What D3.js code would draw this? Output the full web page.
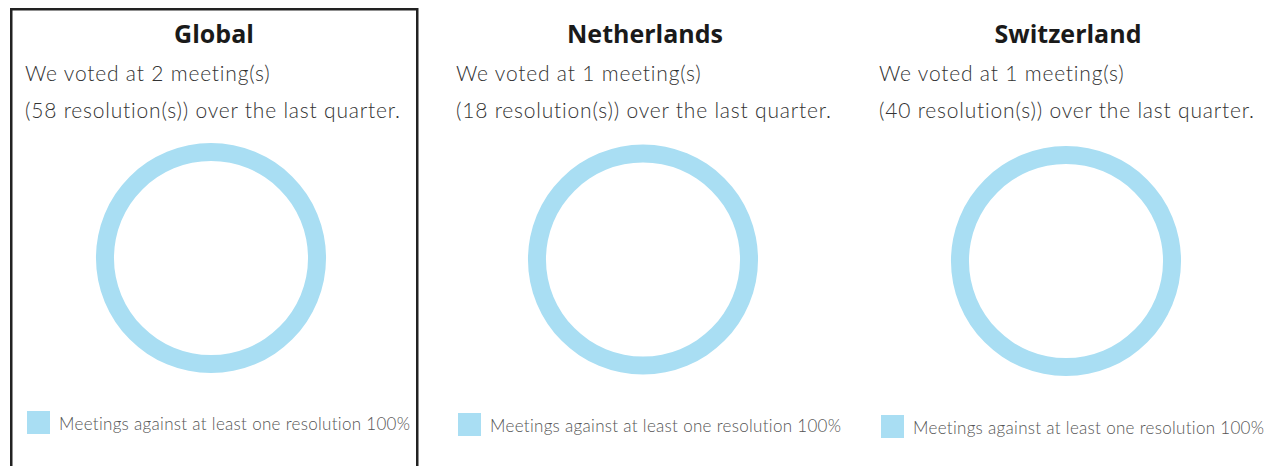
<!DOCTYPE html>
<html>
<head>
    <meta charset="utf-8">
    <title>Voting summary donuts</title>
    <style>
        body { margin: 0; background: #fff; }
        .title { font: bold 25px "Open Sans", Lato, sans-serif; fill: #1a1a1a; text-anchor: middle; }
        .line { font: 300 21px Lato, "Open Sans", sans-serif; fill: #333; letter-spacing: 0.8px; }
        .legend text { font: 300 17px Lato, "Open Sans", sans-serif; fill: #555; letter-spacing: 0.3px; }
        .frame { fill: none; stroke: #222; stroke-width: 2.5px; }
    </style>
</head>
<body>
    <svg width="1279" height="466"></svg>

    <script src="https://d3js.org/d3.v7.min.js"></script>
    <script>
        const regions = ["Global", "Netherlands", "Switzerland"];
        const meetings = [2, 1, 1];
        const resolutions = [58, 18, 40];
        const againstPct = [100, 100, 100];
        const legendLabel = "Meetings against at least one resolution";

        const width = 1279, height = 466;
        const svg = d3.select("svg");

        // panel left edges (first one sits a bit left because of its frame)
        const x = d3.scalePoint().domain(regions).range([18, 864]);
        const panelX = (d, i) => x(d) - (i == 0 ? 8 : 0);
        const color = "#a9def3";

        const pie = d3.pie().sort(null);
        const arc = d3.arc().innerRadius(97).outerRadius(115);

        const panel = svg.selectAll(".panel")
            .data(regions)
            .enter().append("g")
            .attr("class", "panel")
            .attr("transform", (d, i) => "translate(" + panelX(d, i) + ",0)");

        // only the first panel is framed (selected)
        panel.filter((d, i) => i == 0).append("rect")
            .attr("class", "frame")
            .attr("x", 1.25)
            .attr("y", 9.25)
            .attr("width", 406)
            .attr("height", 470);

        panel.append("text")
            .attr("class", "title")
            .attr("x", 204)
            .attr("y", 43)
            .text(d => d);

        panel.append("text")
            .attr("class", "line")
            .attr("x", 15)
            .attr("y", 81)
            .text((d, i) => "We voted at " + meetings[i] + " meeting(s)");

        panel.append("text")
            .attr("class", "line")
            .attr("x", 15)
            .attr("y", 118)
            .text((d, i) => "(" + resolutions[i] + " resolution(s)) over the last quarter.");

        const donut = panel.append("g")
            .attr("transform", (d, i) => "translate(" + (i == 0 ? 201 : 202) + "," + (258 + i * 1.5) + ")");

        donut.selectAll("path")
            .data((d, i) => pie([againstPct[i]]))
            .enter().append("path")
            .attr("d", arc)
            .attr("fill", color);

        const legend = panel.append("g")
            .attr("class", "legend")
            .attr("transform", (d, i) => "translate(17," + (411 + i * 2) + ")");

        legend.append("rect")
            .attr("width", 23)
            .attr("height", 23)
            .attr("fill", color);

        legend.append("text")
            .attr("x", 32)
            .attr("y", 19)
            .text((d, i) => legendLabel + " " + againstPct[i] + "%");
    </script>
</body>
</html>
